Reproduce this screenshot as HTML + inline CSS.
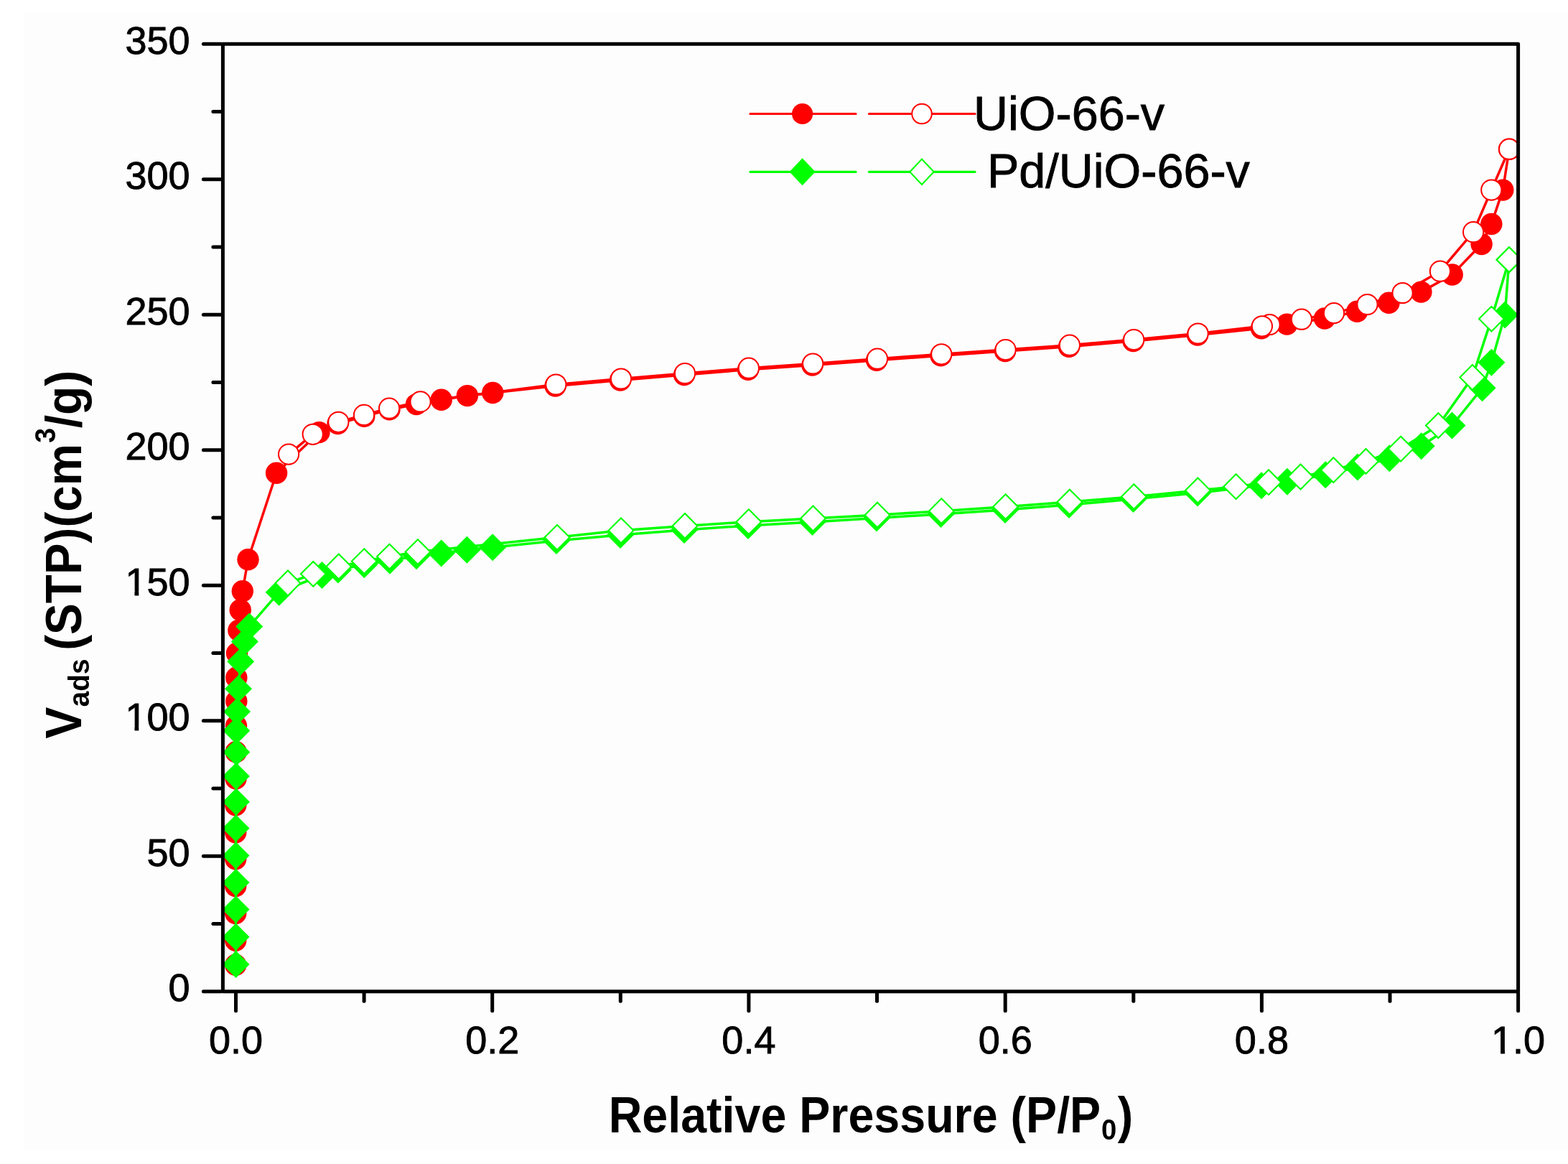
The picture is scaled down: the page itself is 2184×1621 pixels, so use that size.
<!DOCTYPE html>
<html><head><meta charset="utf-8"><title>N2 isotherm UiO-66-v</title>
<style>
html,body{margin:0;padding:0;background:#fff;}
body{width:2184px;height:1621px;overflow:hidden;}
svg{display:block;}
</style></head><body>
<svg width="2184" height="1621" viewBox="0 0 2184 1621"><rect x="34" y="17" width="2150" height="1584" fill="#fdfdfd"/>
<defs><clipPath id="pa"><rect x="310.4" y="61.2" width="1804.2" height="1319.5"/></clipPath></defs>
<g clip-path="url(#pa)">
<polyline points="328.2,1343.7 328.2,1309.7 328.2,1271.9 328.2,1234.1 328.2,1196.3 328.2,1159.3 328.3,1121.3 328.5,1084.3 328.7,1047.2 329,1011 329.3,976.5 329.3,943.7 330,909.7 332.4,878 334.7,849.5 337.8,823.3 345.5,779.2 385.1,658.8 444.5,602.1 470.5,590 507.3,579.8 542.5,570.3 580,563.1 614.7,556.7 650.9,551.1 686.3,547 773.5,537.5 864,529.5 953,522 1042,514.7 1131.5,508.5 1221,501.7 1310.5,495.3 1400,489 1489,482.7 1578.5,475 1668,466.5 1757,457.2 1792.5,451.6 1845,443.5 1890.2,433.7 1934.5,421.8 1979.4,406.6 2022.7,382.5 2063.6,340 2077.3,311.9 2093.3,264.6 2102.1,207.7" fill="none" stroke="#ff0000" stroke-width="3.5" stroke-linejoin="round" stroke-linecap="round"/>
<g fill="#ff0000"><circle cx="328.2" cy="1343.7" r="15.2"/><circle cx="328.2" cy="1309.7" r="15.2"/><circle cx="328.2" cy="1271.9" r="15.2"/><circle cx="328.2" cy="1234.1" r="15.2"/><circle cx="328.2" cy="1196.3" r="15.2"/><circle cx="328.2" cy="1159.3" r="15.2"/><circle cx="328.3" cy="1121.3" r="15.2"/><circle cx="328.5" cy="1084.3" r="15.2"/><circle cx="328.7" cy="1047.2" r="15.2"/><circle cx="329" cy="1011" r="15.2"/><circle cx="329.3" cy="976.5" r="15.2"/><circle cx="329.3" cy="943.7" r="15.2"/><circle cx="330" cy="909.7" r="15.2"/><circle cx="332.4" cy="878" r="15.2"/><circle cx="334.7" cy="849.5" r="15.2"/><circle cx="337.8" cy="823.3" r="15.2"/><circle cx="345.5" cy="779.2" r="15.2"/><circle cx="385.1" cy="658.8" r="15.2"/><circle cx="444.5" cy="602.1" r="15.2"/><circle cx="470.5" cy="590" r="15.2"/><circle cx="507.3" cy="579.8" r="15.2"/><circle cx="542.5" cy="570.3" r="15.2"/><circle cx="580" cy="563.1" r="15.2"/><circle cx="614.7" cy="556.7" r="15.2"/><circle cx="650.9" cy="551.1" r="15.2"/><circle cx="686.3" cy="547" r="15.2"/><circle cx="773.5" cy="537.5" r="15.2"/><circle cx="864" cy="529.5" r="15.2"/><circle cx="953" cy="522" r="15.2"/><circle cx="1042" cy="514.7" r="15.2"/><circle cx="1131.5" cy="508.5" r="15.2"/><circle cx="1221" cy="501.7" r="15.2"/><circle cx="1310.5" cy="495.3" r="15.2"/><circle cx="1400" cy="489" r="15.2"/><circle cx="1489" cy="482.7" r="15.2"/><circle cx="1578.5" cy="475" r="15.2"/><circle cx="1668" cy="466.5" r="15.2"/><circle cx="1757" cy="457.2" r="15.2"/><circle cx="1792.5" cy="451.6" r="15.2"/><circle cx="1845" cy="443.5" r="15.2"/><circle cx="1890.2" cy="433.7" r="15.2"/><circle cx="1934.5" cy="421.8" r="15.2"/><circle cx="1979.4" cy="406.6" r="15.2"/><circle cx="2022.7" cy="382.5" r="15.2"/><circle cx="2063.6" cy="340" r="15.2"/><circle cx="2077.3" cy="311.9" r="15.2"/><circle cx="2093.3" cy="264.6" r="15.2"/><circle cx="2102.1" cy="207.7" r="15.2"/></g>
<polyline points="2102.1,207.7 2077.3,264.6 2052.1,323.2 2005.9,377.7 1953.6,408 1904.5,424 1858,436.1 1812.9,444.7 1768.5,452 1757.9,454.3 1668.6,464.5 1579.2,473.1 1489.9,480.7 1400.6,487.1 1311.3,493.3 1222,499.7 1132.2,506.5 1042.9,512.7 954,520 865,527.5 774.3,535.5 585.6,559.4 542.1,568.7 507,577.9 471.4,587.8 435.7,604.8 402.1,632.6" fill="none" stroke="#ff0000" stroke-width="3.5" stroke-linejoin="round" stroke-linecap="round"/>
<g fill="#ffffff" stroke="#ff0000" stroke-width="2.0"><circle cx="2102.1" cy="207.7" r="14.1"/><circle cx="2077.3" cy="264.6" r="14.1"/><circle cx="2052.1" cy="323.2" r="14.1"/><circle cx="2005.9" cy="377.7" r="14.1"/><circle cx="1953.6" cy="408" r="14.1"/><circle cx="1904.5" cy="424" r="14.1"/><circle cx="1858" cy="436.1" r="14.1"/><circle cx="1812.9" cy="444.7" r="14.1"/><circle cx="1768.5" cy="452" r="14.1"/><circle cx="1757.9" cy="454.3" r="14.1"/><circle cx="1668.6" cy="464.5" r="14.1"/><circle cx="1579.2" cy="473.1" r="14.1"/><circle cx="1489.9" cy="480.7" r="14.1"/><circle cx="1400.6" cy="487.1" r="14.1"/><circle cx="1311.3" cy="493.3" r="14.1"/><circle cx="1222" cy="499.7" r="14.1"/><circle cx="1132.2" cy="506.5" r="14.1"/><circle cx="1042.9" cy="512.7" r="14.1"/><circle cx="954" cy="520" r="14.1"/><circle cx="865" cy="527.5" r="14.1"/><circle cx="774.3" cy="535.5" r="14.1"/><circle cx="585.6" cy="559.4" r="14.1"/><circle cx="542.1" cy="568.7" r="14.1"/><circle cx="507" cy="577.9" r="14.1"/><circle cx="471.4" cy="587.8" r="14.1"/><circle cx="435.7" cy="604.8" r="14.1"/><circle cx="402.1" cy="632.6" r="14.1"/></g>
<polyline points="328.5,1342.9 328.5,1304.8 328.5,1266.5 328.5,1229 328.5,1191.4 328.5,1153.4 328.9,1116.7 328.9,1080.9 329.3,1047.5 329.3,1017.4 330,990.9 332,959.2 335.2,921.3 340.9,893.5 347.2,872.4 388.7,824.7 448.5,801 470.9,793.6 507.3,786.2 543,780.7 580,774.2 614.7,770.5 650.4,765.8 686.1,762.2 775,753 864,745 953,738 1042,732 1131.5,727 1221,721.5 1310.5,716 1400,710 1489,703 1578.5,695 1668,686.5 1757,676.3 1792.9,670.7 1846.2,661.3 1890.9,650.6 1935.3,638.3 1979.7,621.2 2022.5,592.6 2064.6,540.3 2077.4,504.7 2096.2,438.6 2102,361.7" fill="none" stroke="#00ff00" stroke-width="3.5" stroke-linejoin="round" stroke-linecap="round"/>
<path fill="#00ff00" d="M328.5 1323.9L347.5 1342.9L328.5 1361.9L309.5 1342.9ZM328.5 1285.8L347.5 1304.8L328.5 1323.8L309.5 1304.8ZM328.5 1247.5L347.5 1266.5L328.5 1285.5L309.5 1266.5ZM328.5 1210L347.5 1229L328.5 1248L309.5 1229ZM328.5 1172.4L347.5 1191.4L328.5 1210.4L309.5 1191.4ZM328.5 1134.4L347.5 1153.4L328.5 1172.4L309.5 1153.4ZM328.9 1097.7L347.9 1116.7L328.9 1135.7L309.9 1116.7ZM328.9 1061.9L347.9 1080.9L328.9 1099.9L309.9 1080.9ZM329.3 1028.5L348.3 1047.5L329.3 1066.5L310.3 1047.5ZM329.3 998.4L348.3 1017.4L329.3 1036.4L310.3 1017.4ZM330 971.9L349 990.9L330 1009.9L311 990.9ZM332 940.2L351 959.2L332 978.2L313 959.2ZM335.2 902.3L354.2 921.3L335.2 940.3L316.2 921.3ZM340.9 874.5L359.9 893.5L340.9 912.5L321.9 893.5ZM347.2 853.4L366.2 872.4L347.2 891.4L328.2 872.4ZM388.7 805.7L407.7 824.7L388.7 843.7L369.7 824.7ZM448.5 782L467.5 801L448.5 820L429.5 801ZM470.9 774.6L489.9 793.6L470.9 812.6L451.9 793.6ZM507.3 767.2L526.3 786.2L507.3 805.2L488.3 786.2ZM543 761.7L562 780.7L543 799.7L524 780.7ZM580 755.2L599 774.2L580 793.2L561 774.2ZM614.7 751.5L633.7 770.5L614.7 789.5L595.7 770.5ZM650.4 746.8L669.4 765.8L650.4 784.8L631.4 765.8ZM686.1 743.2L705.1 762.2L686.1 781.2L667.1 762.2ZM775 734L794 753L775 772L756 753ZM864 726L883 745L864 764L845 745ZM953 719L972 738L953 757L934 738ZM1042 713L1061 732L1042 751L1023 732ZM1131.5 708L1150.5 727L1131.5 746L1112.5 727ZM1221 702.5L1240 721.5L1221 740.5L1202 721.5ZM1310.5 697L1329.5 716L1310.5 735L1291.5 716ZM1400 691L1419 710L1400 729L1381 710ZM1489 684L1508 703L1489 722L1470 703ZM1578.5 676L1597.5 695L1578.5 714L1559.5 695ZM1668 667.5L1687 686.5L1668 705.5L1649 686.5ZM1757 657.3L1776 676.3L1757 695.3L1738 676.3ZM1792.9 651.7L1811.9 670.7L1792.9 689.7L1773.9 670.7ZM1846.2 642.3L1865.2 661.3L1846.2 680.3L1827.2 661.3ZM1890.9 631.6L1909.9 650.6L1890.9 669.6L1871.9 650.6ZM1935.3 619.3L1954.3 638.3L1935.3 657.3L1916.3 638.3ZM1979.7 602.2L1998.7 621.2L1979.7 640.2L1960.7 621.2ZM2022.5 573.6L2041.5 592.6L2022.5 611.6L2003.5 592.6ZM2064.6 521.3L2083.6 540.3L2064.6 559.3L2045.6 540.3ZM2077.4 485.7L2096.4 504.7L2077.4 523.7L2058.4 504.7ZM2096.2 419.6L2115.2 438.6L2096.2 457.6L2077.2 438.6ZM2102 342.7L2121 361.7L2102 380.7L2083 361.7Z"/>
<polyline points="2102,361.7 2077.4,444.1 2050.8,525.5 2003.4,592.6 1951.1,625.1 1902.5,642.4 1857.3,654.7 1811.5,664 1767,671.7 1721.6,677.7 1668.4,683 1579.3,691.7 1489.9,699.1 1400.6,705.7 1311.3,711.7 1222,717.2 1132.5,722 1042.9,726.7 954,732.4 865,738.8 776,748.3 582,768.6 542.5,775.1 507.3,781.6 471.8,789 436.3,799.3 401,812" fill="none" stroke="#00ff00" stroke-width="3.5" stroke-linejoin="round" stroke-linecap="round"/>
<path fill="#ffffff" stroke="#00ff00" stroke-width="2.1" stroke-linejoin="miter" d="M2102 344.3L2119.4 361.7L2102 379.1L2084.6 361.7ZM2077.4 426.7L2094.8 444.1L2077.4 461.5L2060 444.1ZM2050.8 508.1L2068.2 525.5L2050.8 542.9L2033.4 525.5ZM2003.4 575.2L2020.8 592.6L2003.4 610L1986 592.6ZM1951.1 607.7L1968.5 625.1L1951.1 642.5L1933.7 625.1ZM1902.5 625L1919.9 642.4L1902.5 659.8L1885.1 642.4ZM1857.3 637.3L1874.7 654.7L1857.3 672.1L1839.9 654.7ZM1811.5 646.6L1828.9 664L1811.5 681.4L1794.1 664ZM1767 654.3L1784.4 671.7L1767 689.1L1749.6 671.7ZM1721.6 660.3L1739 677.7L1721.6 695.1L1704.2 677.7ZM1668.4 665.6L1685.8 683L1668.4 700.4L1651 683ZM1579.3 674.3L1596.7 691.7L1579.3 709.1L1561.9 691.7ZM1489.9 681.7L1507.3 699.1L1489.9 716.5L1472.5 699.1ZM1400.6 688.3L1418 705.7L1400.6 723.1L1383.2 705.7ZM1311.3 694.3L1328.7 711.7L1311.3 729.1L1293.9 711.7ZM1222 699.8L1239.4 717.2L1222 734.6L1204.6 717.2ZM1132.5 704.6L1149.9 722L1132.5 739.4L1115.1 722ZM1042.9 709.3L1060.3 726.7L1042.9 744.1L1025.5 726.7ZM954 715L971.4 732.4L954 749.8L936.6 732.4ZM865 721.4L882.4 738.8L865 756.2L847.6 738.8ZM776 730.9L793.4 748.3L776 765.7L758.6 748.3ZM582 751.2L599.4 768.6L582 786L564.6 768.6ZM542.5 757.7L559.9 775.1L542.5 792.5L525.1 775.1ZM507.3 764.2L524.7 781.6L507.3 799L489.9 781.6ZM471.8 771.6L489.2 789L471.8 806.4L454.4 789ZM436.3 781.9L453.7 799.3L436.3 816.7L418.9 799.3ZM401 794.6L418.4 812L401 829.4L383.6 812Z"/>
</g>
<path d="M310.4 1380.7L310.4 61.2L2114.6 61.2L2114.6 1380.7Z" stroke="#000" stroke-width="5.0" fill="none" stroke-linejoin="round"/>
<g stroke="#000" stroke-width="5.0" stroke-linecap="round">
<line x1="307.9" y1="1380.7" x2="283.4" y2="1380.7"/>
<line x1="307.9" y1="1286.5" x2="296.9" y2="1286.5"/>
<line x1="307.9" y1="1192.2" x2="283.4" y2="1192.2"/>
<line x1="307.9" y1="1098" x2="296.9" y2="1098"/>
<line x1="307.9" y1="1003.7" x2="283.4" y2="1003.7"/>
<line x1="307.9" y1="909.5" x2="296.9" y2="909.5"/>
<line x1="307.9" y1="815.2" x2="283.4" y2="815.2"/>
<line x1="307.9" y1="721" x2="296.9" y2="721"/>
<line x1="307.9" y1="626.7" x2="283.4" y2="626.7"/>
<line x1="307.9" y1="532.5" x2="296.9" y2="532.5"/>
<line x1="307.9" y1="438.2" x2="283.4" y2="438.2"/>
<line x1="307.9" y1="344" x2="296.9" y2="344"/>
<line x1="307.9" y1="249.7" x2="283.4" y2="249.7"/>
<line x1="307.9" y1="155.5" x2="296.9" y2="155.5"/>
<line x1="307.9" y1="61.2" x2="283.4" y2="61.2"/>
<line x1="328.5" y1="1383.2" x2="328.5" y2="1407.7"/>
<line x1="507.1" y1="1383.2" x2="507.1" y2="1394.2"/>
<line x1="685.7" y1="1383.2" x2="685.7" y2="1407.7"/>
<line x1="864.3" y1="1383.2" x2="864.3" y2="1394.2"/>
<line x1="1042.9" y1="1383.2" x2="1042.9" y2="1407.7"/>
<line x1="1221.5" y1="1383.2" x2="1221.5" y2="1394.2"/>
<line x1="1400.2" y1="1383.2" x2="1400.2" y2="1407.7"/>
<line x1="1578.8" y1="1383.2" x2="1578.8" y2="1394.2"/>
<line x1="1757.4" y1="1383.2" x2="1757.4" y2="1407.7"/>
<line x1="1936" y1="1383.2" x2="1936" y2="1394.2"/>
<line x1="2114.6" y1="1383.2" x2="2114.6" y2="1407.7"/>
</g>
<g font-family="Liberation Sans, Arial, sans-serif" font-size="54" fill="#000" stroke="#000" stroke-width="0.9">
<text x="264.5" y="1394.3" text-anchor="end">0</text>
<text x="264.5" y="1205.8" text-anchor="end">50</text>
<text x="264.5" y="1017.3" text-anchor="end">100</text>
<text x="264.5" y="828.8" text-anchor="end">150</text>
<text x="264.5" y="640.3" text-anchor="end">200</text>
<text x="264.5" y="451.8" text-anchor="end">250</text>
<text x="264.5" y="263.3" text-anchor="end">300</text>
<text x="264.5" y="74.8" text-anchor="end">350</text>
<text x="328.5" y="1467" text-anchor="middle">0.0</text>
<text x="685.7" y="1467" text-anchor="middle">0.2</text>
<text x="1042.9" y="1467" text-anchor="middle">0.4</text>
<text x="1400.2" y="1467" text-anchor="middle">0.6</text>
<text x="1757.4" y="1467" text-anchor="middle">0.8</text>
<text x="2114.6" y="1467" text-anchor="middle">1.0</text>
</g>
<g fill="#fdfdfd"><rect x="176.52" y="1011.67" width="10.92" height="7.43"/><rect x="193.30" y="1011.67" width="10.09" height="7.43"/><rect x="176.52" y="823.17" width="10.92" height="7.43"/><rect x="193.30" y="823.17" width="10.09" height="7.43"/><rect x="2079.18" y="1461.37" width="10.92" height="7.43"/><rect x="2095.97" y="1461.37" width="10.09" height="7.43"/></g>
<g font-family="Liberation Sans, Arial, sans-serif" font-weight="bold" style="font-kerning:none" fill="#000">
<text transform="translate(847.68 1577.00) scale(0.9226 1)" font-size="70">Relative Pressure (P/P</text>
<text transform="translate(1534.09 1587.00) scale(0.9567 1)" font-size="40">0</text>
<text transform="translate(1556.70 1577.00) scale(0.9200 1)" font-size="70">)</text>
</g>
<g font-family="Liberation Sans, Arial, sans-serif" font-weight="bold" style="font-kerning:none" fill="#000" transform="translate(113 0) rotate(-90)">
<text transform="translate(-1028.85 0.00) scale(0.9446 1)" font-size="70">V</text>
<text transform="translate(-984.44 11.00) scale(0.9489 1)" font-size="41">ads</text>
<text transform="translate(-905.77 0.00) scale(0.9368 1)" font-size="70">(STP)(cm</text>
<text transform="translate(-616.76 -36.00) scale(0.9127 1)" font-size="41">3</text>
<text transform="translate(-596.34 0.00) scale(0.9416 1)" font-size="70">/g)</text>
</g>
<g stroke-width="3.2" stroke-linecap="round">
<line x1="1045" y1="158.5" x2="1192" y2="158.5" stroke="#ff0000"/>
<line x1="1210.5" y1="158.5" x2="1358" y2="158.5" stroke="#ff0000"/>
<line x1="1045" y1="239.3" x2="1192" y2="239.3" stroke="#00ff00"/>
<line x1="1210.5" y1="239.3" x2="1358" y2="239.3" stroke="#00ff00"/>
</g>
<circle cx="1117.6" cy="158.5" r="14.6" fill="#ff0000"/>
<circle cx="1284" cy="158.5" r="13.8" fill="#fff" stroke="#ff0000" stroke-width="2"/>
<path fill="#00ff00" d="M1117.6 220.3L1135.6 239.3L1117.6 258.3L1099.6 239.3Z"/>
<path fill="#fff" stroke="#00ff00" stroke-width="2.1" d="M1284 221.6L1300.7 239.3L1284 257L1267.3 239.3Z"/>
<g font-family="Liberation Sans, Arial, sans-serif" font-size="66.5" fill="#000" stroke="#000" stroke-width="0.9">
<text x="1356" y="181">UiO-66-v</text>
<text x="1375" y="261">Pd/UiO-66-v</text>
</g></svg>
</body></html>
